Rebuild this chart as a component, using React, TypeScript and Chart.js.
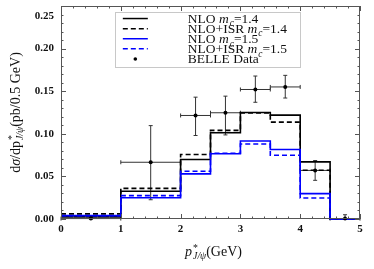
import React, { useEffect, useRef } from 'react';
import { Chart, registerables } from 'chart.js';

Chart.register(...registerables);

// ---- data ----
const binEdges = [0, 1, 2, 2.5, 3, 3.5, 4, 4.5, 5];
const nloMc14 = [0.0025, 0.0325, 0.0698, 0.1012, 0.125, 0.1219, 0.067, 0];
const isrMc14 = [0.006, 0.036, 0.0757, 0.104, 0.1245, 0.1137, 0.0572, 0];
const nloMc15 = [0.004, 0.025, 0.053, 0.0765, 0.0915, 0.0815, 0.0298, 0];
const isrMc15 = [0.0038, 0.0274, 0.056, 0.0772, 0.088, 0.0748, 0.0247, 0];

const belleX = [0.5, 1.5, 2.25, 2.75, 3.25, 3.75, 4.25, 4.75];
const belleXErr = [0.5, 0.5, 0.25, 0.25, 0.25, 0.25, 0.25, 0.25];
const belleY = [0.0005, 0.0666, 0.1215, 0.1247, 0.152, 0.155, 0.057, 0.0005];
const belleErrHi = [0.001, 0.043, 0.0215, 0.0195, 0.0158, 0.0136, 0.0116, 0.0045];
const belleErrLo = [0.0005, 0.044, 0.0235, 0.026, 0.015, 0.013, 0.0116, 0.0005];

const xTickValues = [0, 1, 2, 3, 4, 5];
const yTickValues = [0, 0.05, 0.1, 0.15, 0.2, 0.25];
const xMinorStep = 0.2;
const yMinorStep = 0.01;

const legendLabels = [
  [{ t: 'NLO ' }, { t: 'm', it: true }, { sub: 'c' }, { t: '=1.4' }],
  [{ t: 'NLO+ISR ' }, { t: 'm', it: true }, { sub: 'c' }, { t: '=1.4' }],
  [{ t: 'NLO ' }, { t: 'm', it: true }, { sub: 'c' }, { t: '=1.5' }],
  [{ t: 'NLO+ISR ' }, { t: 'm', it: true }, { sub: 'c' }, { t: '=1.5' }],
  [{ t: 'BELLE Data' }],
];
const yTitle = [{ t: 'd' }, { t: 'σ', it: true }, { t: '/dp' }, { sup: '*', sub: 'J/ψ' }, { t: '(pb/0.5 GeV)' }];
const xTitle = [{ t: 'p', it: true }, { sup: '*', sub: 'J/ψ' }, { t: '(GeV)' }];

const FONT = '"Liberation Serif", "Times New Roman", serif';

type Seg = { t?: string; it?: boolean; sub?: string; sup?: string };

function segWidth(ctx: CanvasRenderingContext2D, s: Seg, size: number) {
  if (s.sub !== undefined || s.sup !== undefined) {
    ctx.font = `italic ${size * 0.7}px ${FONT}`;
    const a = ctx.measureText(s.sub || '').width;
    ctx.font = `${size * 0.7}px ${FONT}`;
    const b = ctx.measureText(s.sup || '').width;
    return Math.max(a, b) + 1;
  }
  ctx.font = `${s.it ? 'italic ' : ''}${size}px ${FONT}`;
  return ctx.measureText(s.t || '').width;
}

function drawRich(ctx: CanvasRenderingContext2D, segs: Seg[], x: number, y: number, size: number, align: 'left' | 'center') {
  let total = 0;
  for (const s of segs) total += segWidth(ctx, s, size);
  let cx = align === 'center' ? x - total / 2 : x;
  ctx.textAlign = 'left';
  ctx.textBaseline = 'alphabetic';
  const base = y + size * 0.33;
  for (const s of segs) {
    const w = segWidth(ctx, s, size);
    if (s.sub !== undefined || s.sup !== undefined) {
      if (s.sub) {
        ctx.font = `italic ${size * 0.7}px ${FONT}`;
        ctx.fillText(s.sub, cx + 1, base + size * 0.25);
      }
      if (s.sup) {
        ctx.font = `${size * 0.7}px ${FONT}`;
        ctx.fillText(s.sup, cx + 1, base - size * 0.3);
      }
    } else {
      ctx.font = `${s.it ? 'italic ' : ''}${size}px ${FONT}`;
      ctx.fillText(s.t || '', cx, base);
    }
    cx += w;
  }
}

// point i sits at the left edge of bin i; 'before' stepping carries its value to the next edge
function steps(vals: number[]) {
  return binEdges.map((x, i) => ({ x, y: vals[Math.min(i, vals.length - 1)] }));
}

const decorPlugin = {
  id: 'decor',
  beforeDatasetsDraw(chart: any) {
    const ctx = chart.ctx as CanvasRenderingContext2D;
    const xs = chart.scales.x;
    const ys = chart.scales.y;
    ctx.save();
    ctx.strokeStyle = '#333';
    ctx.lineWidth = 1;
    const cap = 2;
    belleX.forEach((xv, i) => {
      const px = xs.getPixelForValue(xv);
      const py = ys.getPixelForValue(belleY[i]);
      const x0 = xs.getPixelForValue(xv - belleXErr[i]);
      const x1 = xs.getPixelForValue(xv + belleXErr[i]);
      const yT = ys.getPixelForValue(belleY[i] + belleErrHi[i]);
      const yB = ys.getPixelForValue(belleY[i] - belleErrLo[i]);
      ctx.beginPath();
      ctx.moveTo(x0, py); ctx.lineTo(x1, py);
      ctx.moveTo(x0, py - cap); ctx.lineTo(x0, py + cap);
      ctx.moveTo(x1, py - cap); ctx.lineTo(x1, py + cap);
      ctx.moveTo(px, yT); ctx.lineTo(px, yB);
      ctx.moveTo(px - cap, yT); ctx.lineTo(px + cap, yT);
      ctx.moveTo(px - cap, yB); ctx.lineTo(px + cap, yB);
      ctx.stroke();
    });
    ctx.restore();
  },
  afterDraw(chart: any) {
    const ctx = chart.ctx as CanvasRenderingContext2D;
    const a = chart.chartArea;
    const xs = chart.scales.x;
    const ys = chart.scales.y;
    ctx.save();
    // frame
    ctx.strokeStyle = '#555';
    ctx.lineWidth = 1;
    ctx.strokeRect(a.left + 0.5, a.top + 0.5, a.right - a.left - 1, a.bottom - a.top - 1);
    // ticks
    ctx.beginPath();
    const xMin = xTickValues[0], xMax = xTickValues[xTickValues.length - 1];
    const nx = Math.round((xMax - xMin) / xMinorStep);
    for (let k = 0; k <= nx; k++) {
      const v = xMin + k * xMinorStep;
      const major = Math.abs(v - Math.round(v)) < 1e-6;
      const len = major ? 5 : 2.5;
      const px = Math.round(xs.getPixelForValue(v)) + 0.5;
      ctx.moveTo(px, a.bottom); ctx.lineTo(px, a.bottom - len);
      ctx.moveTo(px, a.top); ctx.lineTo(px, a.top + len);
    }
    const yMin = yTickValues[0], yMax = yTickValues[yTickValues.length - 1];
    const ny = Math.round((yMax - yMin) / yMinorStep);
    for (let k = 0; k <= ny; k++) {
      const v = yMin + k * yMinorStep;
      const major = k % 5 === 0;
      const len = major ? 5 : 2.5;
      const py = Math.round(ys.getPixelForValue(v)) + 0.5;
      ctx.moveTo(a.left, py); ctx.lineTo(a.left + len, py);
      ctx.moveTo(a.right, py); ctx.lineTo(a.right - len, py);
    }
    ctx.stroke();

    // tick labels
    ctx.fillStyle = '#111';
    ctx.font = `bold 11px ${FONT}`;
    ctx.textAlign = 'center';
    ctx.textBaseline = 'middle';
    xTickValues.forEach((v) => {
      ctx.fillText(String(v), xs.getPixelForValue(v), a.bottom + 10.5);
    });
    ctx.textAlign = 'right';
    yTickValues.forEach((v) => {
      const py = Math.max(ys.getPixelForValue(v), a.top + 10);
      ctx.fillText(v.toFixed(2), a.left - 7, py);
    });

    // axis titles
    ctx.fillStyle = '#111';
    drawRich(ctx, xTitle as Seg[], (a.left + a.right) / 2 + 3, a.bottom + 32, 14, 'center');
    ctx.save();
    ctx.translate(15, (a.top + a.bottom) / 2);
    ctx.rotate(-Math.PI / 2);
    drawRich(ctx, yTitle as Seg[], 0, 0, 14, 'center');
    ctx.restore();

    // legend
    const lx0 = xs.getPixelForValue(0.9);
    const lx1 = xs.getPixelForValue(4.0);
    const ly0 = ys.getPixelForValue(0.2435);
    const ly1 = ys.getPixelForValue(0.1795);
    ctx.fillStyle = '#fff';
    ctx.fillRect(lx0, ly0, lx1 - lx0, ly1 - ly0);
    ctx.strokeStyle = '#c8c8c8';
    ctx.lineWidth = 1;
    ctx.strokeRect(Math.round(lx0) + 0.5, Math.round(ly0) + 0.5, Math.round(lx1 - lx0), Math.round(ly1 - ly0));
    const styles = [
      { c: '#000', d: [] as number[] },
      { c: '#000', d: [5, 3] },
      { c: '#0000ff', d: [] as number[] },
      { c: '#0000ff', d: [5, 3] },
    ];
    const rowH = 10.1;
    const sx0 = lx0 + 8, sx1 = lx0 + 33;
    for (let i = 0; i < 5; i++) {
      const ry = ly0 + 7 + i * rowH;
      if (i < 4) {
        ctx.beginPath();
        ctx.strokeStyle = styles[i].c;
        ctx.lineWidth = 1.5;
        ctx.setLineDash(styles[i].d);
        ctx.moveTo(sx0, ry); ctx.lineTo(sx1, ry);
        ctx.stroke();
        ctx.setLineDash([]);
      } else {
        ctx.beginPath();
        ctx.fillStyle = '#000';
        ctx.arc((sx0 + sx1) / 2, ry, 1.8, 0, Math.PI * 2);
        ctx.fill();
      }
      ctx.fillStyle = '#111';
      drawRich(ctx, legendLabels[i] as Seg[], lx0 + 73, ry, 13.5, 'left');
    }
    ctx.restore();
  },
};

export default function App() {
  const ref = useRef<HTMLCanvasElement | null>(null);
  useEffect(() => {
    document.body.style.margin = '0';
    const canvas = ref.current!;
    const line = (label: string, vals: number[], color: string, dash: number[]) => ({
      type: 'line' as const,
      label,
      data: steps(vals),
      borderColor: color,
      backgroundColor: color,
      borderWidth: 1.6,
      borderDash: dash,
      stepped: 'before' as const,
      pointRadius: 0,
      fill: false,
      clip: 4,
    });
    const chart = new Chart(canvas, {
      type: 'line',
      data: {
        datasets: [
          {
            type: 'scatter' as const,
            label: 'BELLE Data',
            data: belleX.map((x, i) => ({ x, y: belleY[i] })),
            pointRadius: 2,
            pointBackgroundColor: '#000',
            pointBorderColor: '#000',
            pointBorderWidth: 0,
            showLine: false,
            clip: 4,
          } as any,
          line('NLO+ISR mc=1.5', isrMc15, '#0000ff', [5, 3]),
          line('NLO mc=1.5', nloMc15, '#0000ff', []),
          line('NLO+ISR mc=1.4', isrMc14, '#000', [5, 3]),
          line('NLO mc=1.4', nloMc14, '#000', []),
        ],
      },
      options: {
        responsive: false,
        animation: false,
        devicePixelRatio: 1,
        layout: { padding: { left: 61, right: 14, top: 6, bottom: 50 } },
        plugins: { legend: { display: false }, tooltip: { enabled: false } },
        scales: {
          x: { type: 'linear', min: 0, max: 5, display: false },
          y: { type: 'linear', min: 0, max: 0.25, display: false },
        },
      },
      plugins: [decorPlugin],
    });
    return () => chart.destroy();
  }, []);
  return (
    <div style={{ position: 'absolute', left: 0, top: 0, width: 374, height: 269 }}>
      <canvas ref={ref} width={374} height={269} style={{ width: 374, height: 269 }} />
    </div>
  );
}
